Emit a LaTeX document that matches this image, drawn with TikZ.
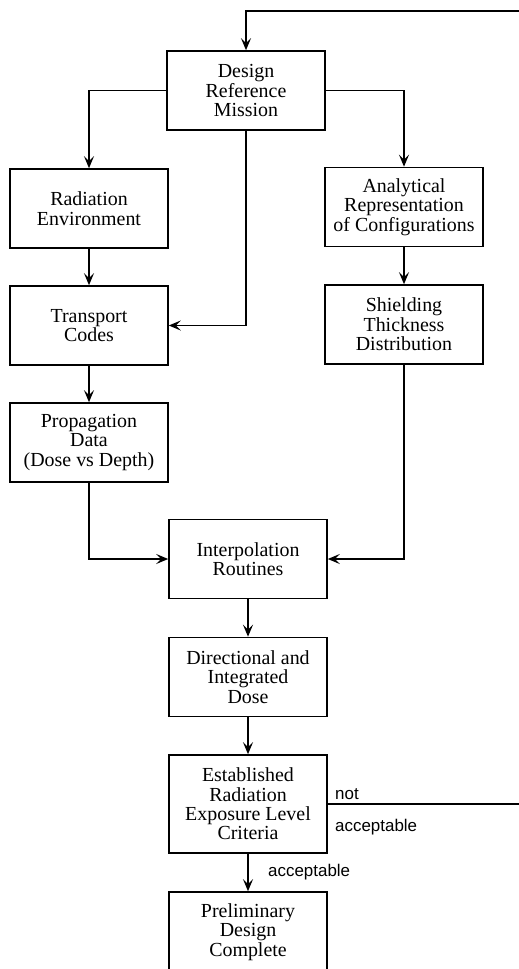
\documentclass[tikz,border=0pt]{standalone}
\usepackage{fontspec}
\setmainfont{Liberation Serif}
\newfontfamily\labelfont{Liberation Sans}
\usetikzlibrary{arrows.meta}
\begin{document}
\begin{tikzpicture}[x=1bp,y=-1bp,
  box/.style={draw,line width=1.6bp,minimum width=158bp,minimum height=79bp,align=center,inner sep=0pt,font=\fontsize{20}{19.5}\selectfont},
  conn/.style={line width=1.6bp},
  arr/.style={conn,-{Stealth[length=12bp,width=10bp,inset=5bp]}},
  lbl/.style={font=\labelfont\fontsize{17}{18}\selectfont,inner sep=0pt}]
\useasboundingbox (0,0) rectangle (519,969);
\fill[white] (0,0) rectangle (519,969);
% boxes
\node[box] (drm) at (246,90.5) {Design\\Reference\\Mission};
\node[box] (re) at (89,208.5) {Radiation\\Environment};
\node[box] (tc) at (89,325.5) {Transport\\Codes};
\node[box] (pd) at (89,442.5) {Propagation\\Data\\(Dose vs Depth)};
\node[box] (ar) at (404,207) {Analytical\\Representation\\of Configurations};
\node[box] (st) at (404,324.5) {Shielding\\Thickness\\Distribution};
\node[box] (ir) at (248,559) {Interpolation\\Routines};
\node[box] (dd) at (248,677) {Directional and\\Integrated\\Dose};
\node[box,minimum height=98bp] (ec) at (248,804) {Established\\Radiation\\Exposure Level\\Criteria};
\node[box,minimum height=80bp] (pdc) at (248,932) {Preliminary\\Design\\Complete};
% feedback coordinates (outside the page on the right)
\coordinate (fbR) at (523,804);
\coordinate (fbT) at (523,11);
% connectors
\draw[arr] (ec.east) -- (fbR) -- (fbT) -| (drm.north);
\draw[arr] (drm.west) -| (re.north);
\draw[arr] (drm.east) -| (ar.north);
\draw[arr] (drm.south) |- (tc.east);
\draw[arr] (re) -- (tc);
\draw[arr] (tc) -- (pd);
\draw[arr] (ar) -- (st);
\draw[arr] (pd.south) |- (ir.west);
\draw[arr] (st.south) |- (ir.east);
\draw[arr] (ir) -- (dd);
\draw[arr] (dd) -- (ec);
\draw[arr] (ec) -- (pdc);
% labels
\node[lbl,anchor=base west] (nt) at (335,799) {not};
\node[lbl,anchor=base west] (acc1) at (335,831) {acceptable};
\node[lbl,anchor=base west] (acc2) at (268,876) {acceptable};
\end{tikzpicture}
\end{document}
